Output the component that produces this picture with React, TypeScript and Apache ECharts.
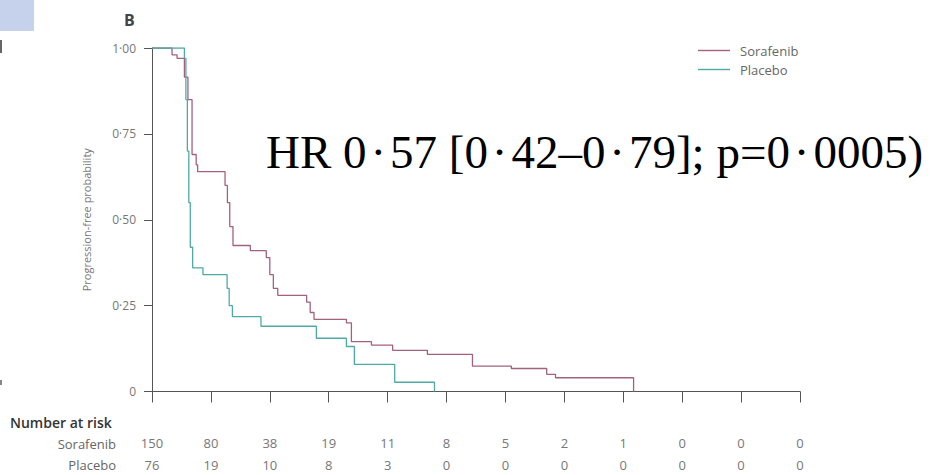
import React, { useEffect, useRef } from "react";
import * as echarts from "echarts";

// Kaplan–Meier step data (time in months, probability)
const sorafenibTime = [0, 0.68, 0.85, 1.1, 1.22, 1.36, 1.5, 1.55, 2.48, 2.56, 2.64, 2.75, 3.34, 3.88, 4.0, 4.12, 4.27, 5.25, 5.37, 5.5, 6.6, 6.77, 7.45, 8.17, 9.35, 10.88, 12.2, 13.4, 13.7, 16.35];
const sorafenibSurv = [1.0, 0.98, 0.97, 0.915, 0.85, 0.69, 0.66, 0.64, 0.6, 0.55, 0.48, 0.425, 0.41, 0.39, 0.34, 0.3, 0.28, 0.26, 0.23, 0.21, 0.2, 0.145, 0.135, 0.12, 0.108, 0.074, 0.067, 0.05, 0.04, 0];
const placeboTime = [0, 1.1, 1.15, 1.2, 1.25, 1.3, 1.38, 1.73, 2.55, 2.62, 2.73, 3.7, 5.58, 6.6, 6.87, 8.24, 9.59];
const placeboSurv = [1.0, 0.97, 0.85, 0.7, 0.55, 0.42, 0.36, 0.34, 0.3, 0.25, 0.218, 0.19, 0.155, 0.131, 0.079, 0.027, 0];

const xTicks = [0, 2, 4, 6, 8, 10, 12, 14, 16, 18, 20, 22];
const riskSorafenib = [150, 80, 38, 19, 11, 8, 5, 2, 1, 0, 0, 0];
const riskPlacebo = [76, 19, 10, 8, 3, 0, 0, 0, 0, 0, 0, 0];

const seriesNames = ["Sorafenib", "Placebo"];
const H = "\u200A";
const hrText = `HR 0${H}·${H}57 [0${H}·${H}42–0${H}·${H}79]; p=0${H}·${H}0005)`;

const SORA_COLOR = "#a3607f";
const PLAC_COLOR = "#4fa9a5";
const AXIS_COLOR = "#555";
const LABEL_COLOR = "#777";
const FONT = "'Open Sans', 'Noto Sans', sans-serif";

export default function App() {
  const ref = useRef<HTMLDivElement>(null);
  useEffect(() => {
    if (!ref.current) return;
    const chart = echarts.init(ref.current, null, { renderer: "svg" });
    const riskAxis = (vals: number[], offset: number) => ({
      type: "value",
      position: "bottom",
      min: 0,
      max: 22,
      interval: 2,
      offset,
      axisLine: { show: false },
      axisTick: { show: false },
      splitLine: { show: false },
      axisLabel: {
        show: true,
        margin: 8,
        fontSize: 13,
        fontFamily: FONT,
        color: LABEL_COLOR,
        formatter: (v: number) => {
          const i = xTicks.indexOf(v);
          return i >= 0 ? String(vals[i]) : "";
        },
      },
    });
    chart.setOption({
      animation: false,
      backgroundColor: "#fff",
      grid: { left: 152, right: 133, top: 48, bottom: 83.5, containLabel: false },
      legend: {
        orient: "vertical",
        left: 693,
        top: 39,
        icon: "rect",
        itemWidth: 32,
        itemHeight: 1.4,
        itemGap: 6,
        textStyle: { fontSize: 13, color: "#666", fontFamily: FONT, padding: [0, 0, 0, 5] },
        data: seriesNames,
      },
      xAxis: [
        {
          type: "value",
          min: 0,
          max: 22,
          interval: 2,
          axisLine: { show: true, lineStyle: { color: AXIS_COLOR, width: 1 } },
          axisTick: { show: true, length: 11, lineStyle: { color: AXIS_COLOR } },
          axisLabel: { show: false },
          splitLine: { show: false },
        },
        riskAxis(riskSorafenib, 37),
        riskAxis(riskPlacebo, 59),
      ],
      yAxis: {
        type: "value",
        min: 0,
        max: 1,
        interval: 0.25,
        name: "Progression-free probability",
        nameLocation: "middle",
        nameRotate: 90,
        nameGap: 60,
        nameTextStyle: { fontSize: 11, color: LABEL_COLOR, fontFamily: FONT },
        axisLine: { show: true, lineStyle: { color: AXIS_COLOR, width: 1 } },
        axisTick: { show: true, length: 8, lineStyle: { color: AXIS_COLOR } },
        axisLabel: {
          margin: 16,
          fontSize: 12,
          color: LABEL_COLOR,
          fontFamily: FONT,
          formatter: (v: number) => (v === 0 ? "0" : v.toFixed(2).replace(".", "·")),
        },
        splitLine: { show: false },
      },
      series: [
        {
          name: seriesNames[0],
          type: "line",
          step: "end",
          symbol: "none",
          color: SORA_COLOR,
          lineStyle: { width: 1.3, color: SORA_COLOR },
          data: sorafenibTime.map((t, i) => [t, sorafenibSurv[i]]),
        },
        {
          name: seriesNames[1],
          type: "line",
          step: "end",
          symbol: "none",
          color: PLAC_COLOR,
          lineStyle: { width: 1.3, color: PLAC_COLOR },
          data: placeboTime.map((t, i) => [t, placeboSurv[i]]),
        },
      ],
      graphic: [
        { type: "rect", left: 0, top: 0, shape: { width: 34, height: 31 }, style: { fill: "#c6d1ec" } },
        { type: "rect", left: 0, top: 40, shape: { width: 2, height: 13 }, style: { fill: "#666" } },
        { type: "rect", left: 0, top: 380, shape: { width: 2, height: 5 }, style: { fill: "#888" } },
        {
          type: "text",
          left: 124,
          top: 12,
          style: { text: "B", fontSize: 16, fontWeight: "bold", fill: "#444", fontFamily: FONT },
        },
        {
          type: "text",
          x: 266,
          y: 152,
          style: {
            text: hrText,
            fontSize: 47,
            fill: "#000",
            fontFamily: "'Liberation Serif', 'DejaVu Serif', serif",
            verticalAlign: "middle",
            align: "left",
          },
        },
        {
          type: "text",
          x: 10,
          y: 422,
          style: { text: "Number at risk", fontSize: 14, fontWeight: 600, fill: "#333", fontFamily: FONT, verticalAlign: "middle" },
        },
        {
          type: "text",
          x: 116,
          y: 443.5,
          style: { text: seriesNames[0], fontSize: 13, fill: "#666", fontFamily: FONT, align: "right", verticalAlign: "middle" },
        },
        {
          type: "text",
          x: 116,
          y: 465,
          style: { text: seriesNames[1], fontSize: 13, fill: "#666", fontFamily: FONT, align: "right", verticalAlign: "middle" },
        },
      ],
    });
    return () => chart.dispose();
  }, []);
  return (
    <div
      ref={ref}
      style={{ position: "fixed", left: 0, top: 0, width: 933, height: 475 }}
    />
  );
}
